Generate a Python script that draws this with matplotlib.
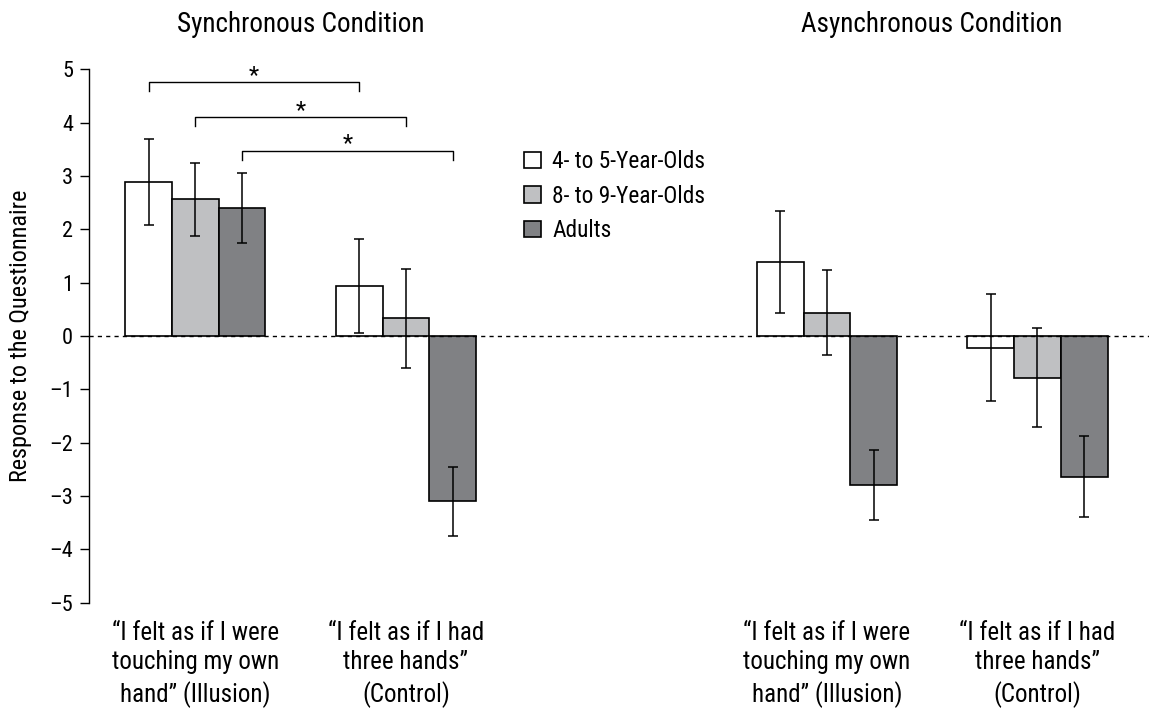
import numpy as np
import matplotlib
matplotlib.use("Agg")
import matplotlib.pyplot as plt

# mean questionnaire scores, order: sync illusion, sync control, async illusion, async control
groups = ["4- to 5-Year-Olds", "8- to 9-Year-Olds", "Adults"]
young_mean = [2.89, 0.94, 1.39, -0.22]
young_err = [0.81, 0.88, 0.96, 1.00]
mid_mean = [2.56, 0.33, 0.44, -0.78]
mid_err = [0.68, 0.93, 0.80, 0.93]
adult_mean = [2.40, -3.10, -2.79, -2.64]
adult_err = [0.66, 0.65, 0.65, 0.76]

item_labels = [
    "\u201cI felt as if I were\ntouching my own\nhand\u201d (Illusion)",
    "\u201cI felt as if I had\nthree hands\u201d\n(Control)",
    "\u201cI felt as if I were\ntouching my own\nhand\u201d (Illusion)",
    "\u201cI felt as if I had\nthree hands\u201d\n(Control)",
]
conditions = ["Synchronous Condition", "Asynchronous Condition"]
yticks = list(range(-5, 6))

plt.rcParams['font.family'] = ['Roboto Condensed', 'DejaVu Sans']
plt.rcParams['font.size'] = 14

fig = plt.figure(figsize=(11.49, 7.11), dpi=100)
ax = fig.add_axes([0.0775, 0.1523, 0.9225, 0.7502])

xpos = np.array([0, 1, 3, 4])
w = 0.222
colors = ["white", "#bfc0c2", "#808184"]
means = [young_mean, mid_mean, adult_mean]
errs = [young_err, mid_err, adult_err]

for i in range(3):
    x = xpos + (i - 1) * w
    ax.bar(x, means[i], w, color=colors[i], edgecolor="black", linewidth=1.2,
           label=groups[i], zorder=2)
    ax.errorbar(x, means[i], yerr=errs[i], fmt="none", ecolor="black",
                elinewidth=1.1, capsize=3.6, capthick=1.1, zorder=3)

ax.axhline(0, color="black", linestyle=(0, (3, 3)), linewidth=1.0, zorder=4)

# significance brackets
brackets = [(-w, 1 - w, 4.757), (0, 1, 4.106), (w, 1 + w, 3.469)]
star_base = [4.77, 4.10, 3.49]
for (x0, x1, yb), ys in zip(brackets, star_base):
    ax.plot([x0, x0, x1, x1], [yb - 0.163, yb, yb, yb - 0.163], color="black", linewidth=1.0)
    ax.text((x0 + x1) / 2, ys, "*", ha="center", va="baseline", fontsize=17)

ax.set_xlim(-0.505, 4.53)
ax.set_ylim(-5, 5)
ax.set_yticks(yticks)
ax.set_yticklabels([str(v).replace("-", "\u2013") for v in yticks], fontsize=16)
ax.set_xticks(xpos)
ax.set_xticklabels(item_labels, linespacing=1.3, fontsize=18)
ax.tick_params(axis="x", length=0, pad=13)
ax.tick_params(axis="y", length=6.5, width=1.0, pad=5)
for s in ["top", "right", "bottom"]:
    ax.spines[s].set_visible(False)
ax.spines["left"].set_linewidth(1.0)
ax.set_ylabel("Response to the Questionnaire", fontsize=17.5)
ax.yaxis.set_label_coords(-0.054, 0.5)

for cx, name in zip([0.5, 3.5], conditions):
    ax.text(cx, 1.0705, name, transform=ax.get_xaxis_transform(),
            ha="center", va="baseline", fontsize=19.5)

ax.legend(loc="upper left", bbox_to_anchor=(0.391, 0.888), frameon=False, fontsize=16.8,
          handlelength=0.69, handleheight=0.69, handletextpad=0.5, labelspacing=0.5)

fig.savefig("out.png", dpi=100)
